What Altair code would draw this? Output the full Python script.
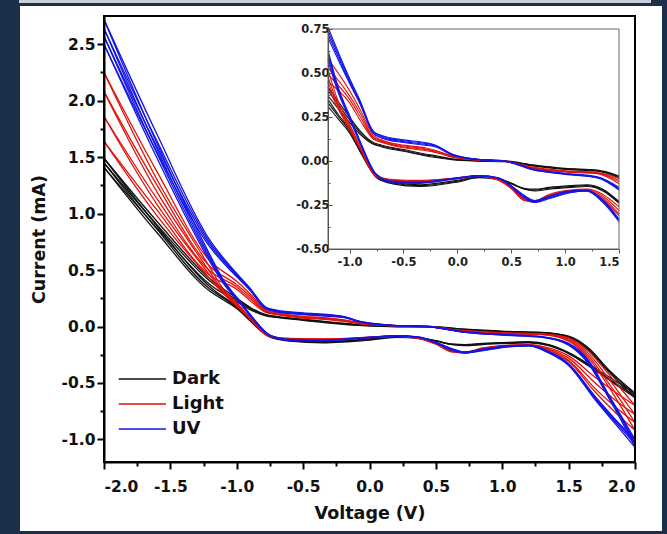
import altair as alt
import pandas as pd

# ---------------- data ----------------
CONDITIONS = ["Dark", "Light", "UV"]
COLORS = ["#111111", "#e3120b", "#1414e6"]

# voltage grids (V) for the two sweep branches
V_UP = [-2.0, -1.6, -1.2, -1.0, -0.9, -0.78, -0.7, -0.5, -0.3, -0.2, -0.05,
        0.15, 0.45, 0.7, 1.0, 1.3, 1.5, 1.65, 1.8, 1.9, 2.0]
V_DN = [-2.0, -1.6, -1.2, -1.1, -1.0, -0.9, -0.75, -0.6, -0.35, 0.0, 0.2,
        0.38, 0.5, 0.62, 0.72, 0.85, 1.05, 1.2, 1.35, 1.5, 1.7, 1.85, 2.0]

# current (mA), one list per cycle
DARK_UP = [
    [1.49, 0.93, 0.42, 0.25, 0.17, 0.105, 0.09, 0.065, 0.04, 0.03, 0.012, 0.003, 0.0, -0.022, -0.042, -0.052, -0.085, -0.19, -0.38, -0.49, -0.59],
    [1.45, 0.90, 0.40, 0.235, 0.16, 0.10, 0.085, 0.06, 0.035, 0.025, 0.01, 0.002, -0.002, -0.025, -0.045, -0.055, -0.09, -0.20, -0.39, -0.50, -0.61],
    [1.41, 0.87, 0.37, 0.22, 0.15, 0.095, 0.08, 0.055, 0.03, 0.02, 0.008, 0.0, -0.004, -0.028, -0.048, -0.058, -0.095, -0.21, -0.40, -0.52, -0.63],
]
DARK_DN = [
    [1.49, 0.89, 0.35, 0.26, 0.18, 0.06, -0.085, -0.12, -0.135, -0.11, -0.09, -0.10, -0.125, -0.155, -0.16, -0.15, -0.14, -0.135, -0.16, -0.23, -0.37, -0.48, -0.59],
    [1.45, 0.86, 0.33, 0.25, 0.17, 0.055, -0.09, -0.125, -0.14, -0.115, -0.092, -0.102, -0.128, -0.158, -0.165, -0.155, -0.145, -0.14, -0.165, -0.235, -0.38, -0.50, -0.61],
    [1.41, 0.83, 0.31, 0.235, 0.16, 0.05, -0.095, -0.13, -0.145, -0.12, -0.095, -0.105, -0.13, -0.16, -0.17, -0.16, -0.15, -0.145, -0.17, -0.24, -0.39, -0.51, -0.63],
]
LIGHT_UP = [
    [2.25, 1.37, 0.58, 0.40, 0.29, 0.145, 0.12, 0.09, 0.075, 0.06, 0.03, 0.01, 0.0, -0.035, -0.055, -0.065, -0.10, -0.22, -0.42, -0.56, -0.70],
    [2.08, 1.25, 0.53, 0.37, 0.27, 0.135, 0.115, 0.085, 0.07, 0.055, 0.028, 0.009, -0.002, -0.038, -0.058, -0.068, -0.11, -0.24, -0.46, -0.62, -0.78],
    [1.86, 1.13, 0.49, 0.35, 0.25, 0.13, 0.11, 0.08, 0.065, 0.05, 0.025, 0.008, -0.003, -0.04, -0.06, -0.07, -0.12, -0.26, -0.50, -0.67, -0.85],
    [1.64, 1.03, 0.45, 0.33, 0.23, 0.125, 0.105, 0.075, 0.06, 0.048, 0.022, 0.007, -0.004, -0.042, -0.062, -0.072, -0.13, -0.28, -0.53, -0.72, -0.92],
]
LIGHT_DN = [
    [2.25, 1.30, 0.52, 0.33, 0.21, 0.08, -0.085, -0.105, -0.11, -0.095, -0.085, -0.105, -0.15, -0.215, -0.225, -0.19, -0.165, -0.16, -0.19, -0.26, -0.45, -0.58, -0.70],
    [2.08, 1.19, 0.48, 0.31, 0.20, 0.075, -0.088, -0.108, -0.113, -0.097, -0.086, -0.107, -0.152, -0.22, -0.23, -0.195, -0.168, -0.163, -0.20, -0.28, -0.50, -0.65, -0.78],
    [1.86, 1.08, 0.45, 0.30, 0.19, 0.07, -0.09, -0.11, -0.115, -0.098, -0.087, -0.108, -0.155, -0.222, -0.232, -0.20, -0.17, -0.166, -0.21, -0.30, -0.55, -0.71, -0.85],
    [1.64, 0.98, 0.42, 0.29, 0.18, 0.065, -0.092, -0.112, -0.117, -0.10, -0.088, -0.11, -0.157, -0.225, -0.235, -0.205, -0.172, -0.168, -0.22, -0.31, -0.58, -0.76, -0.92],
]
UV_UP = [
    [2.72, 1.70, 0.76, 0.47, 0.34, 0.17, 0.145, 0.12, 0.105, 0.09, 0.04, 0.013, 0.0, -0.045, -0.07, -0.09, -0.15, -0.30, -0.60, -0.80, -1.00],
    [2.64, 1.64, 0.74, 0.46, 0.33, 0.165, 0.14, 0.115, 0.10, 0.087, 0.038, 0.012, -0.001, -0.047, -0.072, -0.092, -0.155, -0.31, -0.61, -0.81, -1.02],
    [2.57, 1.59, 0.72, 0.45, 0.325, 0.16, 0.135, 0.11, 0.095, 0.084, 0.036, 0.011, -0.002, -0.049, -0.074, -0.094, -0.16, -0.32, -0.62, -0.82, -1.04],
    [2.50, 1.54, 0.70, 0.44, 0.32, 0.155, 0.13, 0.105, 0.09, 0.08, 0.034, 0.01, -0.003, -0.05, -0.076, -0.096, -0.165, -0.33, -0.63, -0.84, -1.07],
]
UV_DN = [
    [2.72, 1.62, 0.63, 0.41, 0.26, 0.11, -0.075, -0.115, -0.12, -0.095, -0.082, -0.095, -0.14, -0.195, -0.225, -0.20, -0.17, -0.165, -0.22, -0.33, -0.62, -0.82, -1.00],
    [2.64, 1.57, 0.61, 0.40, 0.25, 0.105, -0.078, -0.118, -0.123, -0.097, -0.083, -0.096, -0.142, -0.20, -0.228, -0.205, -0.175, -0.168, -0.225, -0.335, -0.63, -0.83, -1.02],
    [2.57, 1.53, 0.59, 0.39, 0.245, 0.10, -0.08, -0.12, -0.125, -0.098, -0.084, -0.097, -0.144, -0.205, -0.232, -0.21, -0.178, -0.17, -0.23, -0.34, -0.64, -0.845, -1.04],
    [2.50, 1.49, 0.57, 0.38, 0.24, 0.095, -0.082, -0.122, -0.127, -0.10, -0.085, -0.098, -0.146, -0.21, -0.235, -0.215, -0.18, -0.172, -0.235, -0.345, -0.65, -0.86, -1.07],
]

# axis ticks
X_TICKS = [-2.0, -1.75, -1.5, -1.25, -1.0, -0.75, -0.5, -0.25, 0.0, 0.25, 0.5, 0.75,
           1.0, 1.25, 1.5, 1.75, 2.0]
Y_TICKS = [-1.0, -0.75, -0.5, -0.25, 0.0, 0.25, 0.5, 0.75, 1.0, 1.25, 1.5, 1.75,
           2.0, 2.25, 2.5]
X_DOMAIN = [-2.0, 2.0]
Y_DOMAIN = [-1.2, 2.75]

INSET_X_TICKS = [-1.0, -0.75, -0.5, -0.25, 0.0, 0.25, 0.5, 0.75, 1.0, 1.25, 1.5]
INSET_Y_TICKS = [-0.5, -0.375, -0.25, -0.125, 0.0, 0.125, 0.25, 0.375, 0.5, 0.625, 0.75]
INSET_X_DOMAIN = [-1.2, 1.5]
INSET_Y_DOMAIN = [-0.5, 0.75]

# ---------------- table ----------------
rows = []
for cond, ups, dns in [("Dark", DARK_UP, DARK_DN), ("Light", LIGHT_UP, LIGHT_DN), ("UV", UV_UP, UV_DN)]:
    for k, (up, dn) in enumerate(zip(ups, dns)):
        assert len(up) == len(V_UP) and len(dn) == len(V_DN)
        for v, i in zip(V_UP, up):
            rows.append({"cond": cond, "curve": f"{cond}{k}u", "V": v, "I": i})
        for v, i in zip(V_DN, dn):
            rows.append({"cond": cond, "curve": f"{cond}{k}d", "V": v, "I": i})
df = pd.DataFrame(rows)
df_in = df[(df.V >= INSET_X_DOMAIN[0]) & (df.V <= INSET_X_DOMAIN[1])]

FONT = "DejaVu Sans"
MAJOR2 = "abs(datum.value*2 - round(datum.value*2)) < 0.001"
MAJOR4 = "abs(datum.value*4 - round(datum.value*4)) < 0.001"

color = alt.Color("cond:N", scale=alt.Scale(domain=CONDITIONS, range=COLORS),
                  legend=alt.Legend(orient="none", legendX=39, legendY=351, title=None,
                                    symbolType="M-3.3,0H1", symbolSize=484,
                                    symbolStrokeWidth=1.6, labelFontSize=18,
                                    labelFont=FONT, labelFontWeight="bold",
                                    labelColor="#111", rowPadding=4, labelOffset=5,
                                    padding=0, zindex=2))

main_axis_common = dict(domainColor="#000", domainWidth=2, tickColor="#000", tickWidth=2,
                        labelFont=FONT, labelFontWeight="bold", labelFontSize=15.5,
                        labelColor="#111", titleFont=FONT, titleFontWeight="bold",
                        titleFontSize=17.5, titleColor="#111", grid=False, zindex=2,
                        tickSize={"condition": {"test": MAJOR2, "value": 7}, "value": 4})

lab2 = f"{MAJOR2} ? replace(format(datum.value, '.1f'), '\u2212', '-') : ''"
lab4 = f"{MAJOR4} ? replace(format(datum.value, '.2f'), '\u2212', '-') : ''"

x_main = alt.X("V:Q", scale=alt.Scale(domain=X_DOMAIN, nice=False, zero=False),
               axis=alt.Axis(values=X_TICKS, title="Voltage (V)", titlePadding=10,
                             labelPadding=10, labelExpr=lab2, **main_axis_common))
y_main = alt.Y("I:Q", scale=alt.Scale(domain=Y_DOMAIN, nice=False, zero=False),
               axis=alt.Axis(values=Y_TICKS, title="Current (mA)", titlePadding=13,
                             labelPadding=2, labelExpr=lab2, **main_axis_common))

panel = alt.Chart(pd.DataFrame({"a": [0]})).mark_rect(color="white").encode(
    x=alt.value(-84), x2=alt.value(558), y=alt.value(-10), y2=alt.value(515))
strip = alt.Chart(pd.DataFrame({"a": [0]})).mark_rect(color="#c9d0d8").encode(
    x=alt.value(-85), x2=alt.value(547), y=alt.value(-16), y2=alt.value(-13))

main_lines = alt.Chart(df).mark_line(strokeWidth=1.3, interpolate="monotone").encode(
    x=x_main, y=y_main, color=color, detail="curve:N")

main_frame_df = pd.DataFrame({"V": [X_DOMAIN[0]], "V2": [X_DOMAIN[1]],
                              "I": [Y_DOMAIN[0]], "I2": [Y_DOMAIN[1]]})
main_frame = alt.Chart(main_frame_df).mark_rect(fillOpacity=0, stroke="#000", strokeWidth=2).encode(
    x=x_main, x2="V2:Q", y=y_main, y2="I2:Q")

inset_axis_common = dict(domainColor="#555", domainWidth=1, tickColor="#555", tickWidth=1,
                         labelFont=FONT, labelFontWeight="bold", labelFontSize=11.5,
                         labelColor="#222", grid=False, title=None, zindex=2)

x_in = alt.X("V:Q", scale=alt.Scale(domain=INSET_X_DOMAIN, nice=False, zero=False, range=[224, 515]),
             axis=alt.Axis(values=INSET_X_TICKS, orient="bottom", offset=-213, labelExpr=lab2,
                           tickSize={"condition": {"test": MAJOR2, "value": 4}, "value": 2},
                           labelPadding=3, **inset_axis_common))
y_in = alt.Y("I:Q", scale=alt.Scale(domain=INSET_Y_DOMAIN, nice=False, zero=False, range=[233, 13]),
             axis=alt.Axis(values=INSET_Y_TICKS, orient="left", offset=-224, labelExpr=lab4,
                           tickSize={"condition": {"test": MAJOR4, "value": -4}, "value": -2},
                           labelPadding=3, **inset_axis_common))

inset_lines = alt.Chart(df_in).mark_line(strokeWidth=1.1, interpolate="monotone").encode(
    x=x_in, y=y_in, color=alt.Color("cond:N", legend=None), detail="curve:N")

frame_df = pd.DataFrame({"V": [INSET_X_DOMAIN[0]], "V2": [INSET_X_DOMAIN[1]],
                         "I": [INSET_Y_DOMAIN[0]], "I2": [INSET_Y_DOMAIN[1]]})
inset_frame = alt.Chart(frame_df).mark_rect(fillOpacity=0, stroke="#666", strokeWidth=1).encode(
    x=x_in, x2="V2:Q", y=y_in, y2="I2:Q")

main = alt.layer(panel, strip, main_lines, main_frame)
inset = alt.layer(inset_lines, inset_frame)

chart = alt.layer(main, inset).resolve_scale(x="independent", y="independent").properties(
    width=531, height=446,
    autosize=alt.AutoSizeParams(type="none"),
    padding={"left": 104, "top": 16, "right": 32, "bottom": 72},
    background="#1c3049",
).configure_view(stroke=None, fill=None)

chart.save("out.html", embed_options={"renderer": "svg", "actions": False})
